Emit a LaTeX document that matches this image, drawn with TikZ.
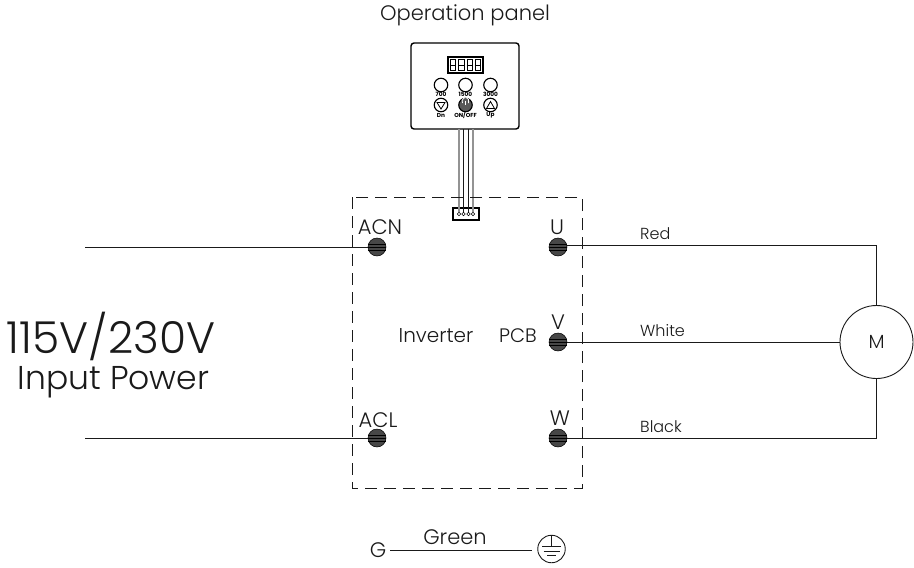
\documentclass[tikz,border=0pt]{standalone}
\usepackage{fontspec}
\setmainfont{Poppins Light}
\newfontfamily\tinyface{Poppins}
\definecolor{inkc}{HTML}{1A1A1A}
\tikzset{
  x=1pt,y=-1pt,
  wire/.style={draw=inkc,line width=0.9pt},
  thinw/.style={draw=inkc,line width=0.8pt},
  cablegray/.style={draw=gray!85,line width=1.1pt},
  term/.style={circle,draw=black,fill=black!72,minimum size=18pt,inner sep=0pt,line width=.5pt},
  lab/.style={inner sep=0pt,font=\fontsize{21}{23}\selectfont,text=inkc},
  smalllab/.style={inner sep=0pt,anchor=west,font=\fontsize{16}{18}\selectfont,text=inkc},
  tiny/.style={inner sep=0pt,font=\tinyface\bfseries\fontsize{5.8}{6}\selectfont,text=black},
  btn/.style={circle,draw=black,line width=1.1pt,minimum size=13.5pt,inner sep=0pt},
}
\begin{document}
\begin{tikzpicture}
\useasboundingbox (0,0) rectangle (914,568);
% panel
\node[inner sep=0pt] (paneltitle) at (465,15) {\fontsize{21}{23}\selectfont\textcolor{inkc}{Operation panel}};
\node[draw=black,line width=1.4pt,rounded corners=3pt,minimum width=108pt,minimum height=86pt,inner sep=0pt] (panel) at (465,86) {};
\node[draw=black,line width=1.2pt,minimum width=35pt,minimum height=16pt,inner sep=0pt] (display) at (465.5,65) {};
\foreach \i/\xx in {1/453,2/461.5,3/470,4/478}{
  \node[draw=black,line width=1.2pt,minimum width=5.5pt,minimum height=10.5pt,inner sep=0pt] (seg\i) at (\xx,65) {};
  \draw[black,line width=.9pt] (seg\i.west) -- (seg\i.east);
}
\foreach \n/\xx/\t in {a/441/700,b/465.5/1500,c/490.5/3000}{
  \node[btn] (top\n) at (\xx,85) {};
  \node[tiny] (tl\n) at (\xx,94.5) {\t};
}
\node[btn] (dn) at (441,105) {};
\node[btn,fill=black!65] (onoff) at (465.5,105) {};
\node[btn] (up) at (490.5,105) {};
\draw[black,line width=.8pt] (437,102.5) -- (445,102.5) -- (441,109) -- cycle;
\draw[black,line width=.8pt] (486.5,108.5) -- (494.5,108.5) -- (490.5,101.5) -- cycle;
\draw[white,line width=.8pt] (462.5,103) arc[start angle=150,end angle=390,radius=3.5];
\draw[white,line width=.8pt] (465.5,100.5) -- (465.5,105);
\node[tiny] (ldn) at (441,115) {Dn};
\node[tiny] (lon) at (465.5,115) {ON/OFF};
\node[tiny] (lup) at (490.5,115) {Up};
% connector + cable
\node[draw=black,line width=1.3pt,minimum width=26pt,minimum height=12pt,inner sep=0pt] (conn) at (466,214) {};
\foreach \i/\xx in {1/459,2/463.5,3/468.5,4/473}{
  \coordinate (ct\i) at (\xx,129);
  \node[circle,draw=black,line width=.6pt,minimum size=3.5pt,inner sep=0pt] (pin\i) at (\xx,214) {};
}
\draw[cablegray] (ct1) -- (pin1);
\draw[wire] (ct2) -- (pin2);
\draw[wire] (ct3) -- (pin3);
\draw[cablegray] (ct4) -- (pin4);
% inverter box
\draw[draw=inkc,line width=.9pt,dash pattern=on 12pt off 7pt] (352,197) rectangle (582,488);
% terminals
\node[term] (acn) at (377,247) {};
\node[term] (acl) at (377,438) {};
\node[term] (u) at (558,247) {};
\node[term] (v) at (558,342) {};
\node[term] (w) at (558,438) {};
\foreach \t in {acn,acl,u,v,w}{
  \foreach \d in {-3,0,3}{\draw[black,line width=.5pt] ([yshift=\d pt]\t.west) -- ([yshift=\d pt]\t.east);}
}
\node[lab] (lacn) at (380,227) {ACN};
\node[lab] (lacl) at (378,420) {ACL};
\node[lab] (lu) at (557,227) {U};
\node[lab] (lv) at (558,322) {V};
\node[lab] (lw) at (560,418) {W};
\node[lab,font=\fontsize{20}{22}\selectfont] (inv) at (436,336) {Inverter};
\node[lab,font=\fontsize{19.5}{22}\selectfont] (pcb) at (518,336) {PCB};
% input
\coordinate (in1) at (85,247);
\coordinate (in2) at (85,438);
\draw[wire] (in1) -- (acn);
\draw[wire] (in2) -- (acl);
\node[inner sep=0pt,text=inkc] (v115) at (111,336) {\fontsize{44}{46}\selectfont 115V/230V};
\node[inner sep=0pt,text=inkc] (ipower) at (113.5,382) {\fontsize{33}{36}\selectfont Input Power};
% motor
\node[circle,draw=inkc,line width=.9pt,minimum size=73pt,inner sep=0pt] (motor) at (876.5,342) {\fontsize{19}{21}\selectfont\textcolor{inkc}{M}};
\draw[wire] (u.east |- 0,245.5) -- (motor.north |- 0,245.5) -- (motor.north);
\draw[wire] (v) -- (motor);
\draw[wire] (w.east |- 0,438.5) -- (motor.south |- 0,438.5) -- (motor.south);
\node[smalllab] (red) at (640,234) {Red};
\node[smalllab] (white) at (640,331) {White};
\node[smalllab] (black) at (640,427) {Black};
% ground
\node[lab] (g) at (378,550) {G};
\node[lab] (green) at (455,537) {Green};
\node[circle,draw=inkc,line width=.9pt,minimum size=27.5pt,inner sep=0pt] (gnd) at (551.5,549) {};
\coordinate (gw1) at (390,550);
\coordinate (gw2) at (532,550);
\draw[wire] (gw1) -- (gw2);
\draw[thinw] (gnd.north) -- (551.5,546);
\draw[thinw] (542,546) -- (561,546);
\draw[thinw] (543.5,551) -- (559.5,551);
\draw[thinw] (547,555.5) -- (556,555.5);
\end{tikzpicture}
\end{document}
